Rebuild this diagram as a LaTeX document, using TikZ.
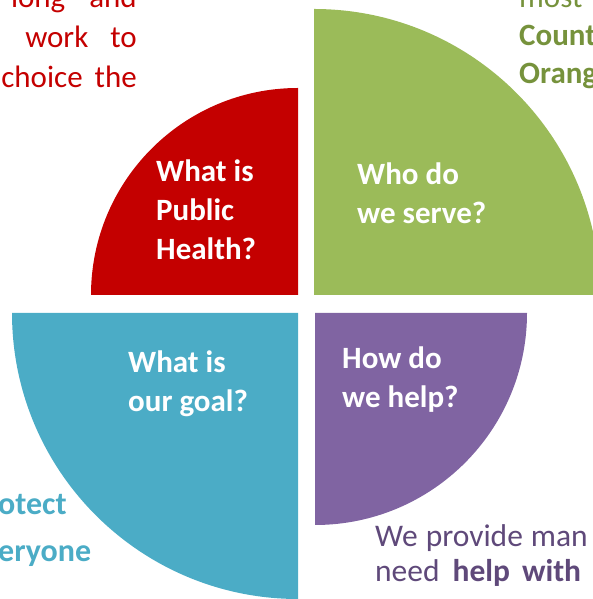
\documentclass[tikz,border=0pt]{standalone}
\usepackage{fontspec}
\setmainfont{Carlito}
\definecolor{healthred}{HTML}{C40000}
\definecolor{servegreen}{HTML}{9BBB59}
\definecolor{servetext}{HTML}{76923C}
\definecolor{helppurple}{HTML}{8064A2}
\definecolor{helptext}{HTML}{5F497A}
\definecolor{goalteal}{HTML}{4BACC6}

\begin{document}
\begin{tikzpicture}[x=1pt, y=1pt,
  question/.style={text=white, font=\fontsize{31}{39}\selectfont\bfseries, align=left, anchor=base west, inner sep=0pt},
  blurb/.style={inner sep=0pt, anchor=base west, align=left}]

\useasboundingbox (0,0) rectangle (593,599);
\clip (0,0) rectangle (593,599);

% the four quarters
\fill[healthred] (298,304) -- (298,511) arc[start angle=90, end angle=180, radius=207] -- cycle;
\fill[servegreen] (314,304) -- (600,304) arc[start angle=0, end angle=90, radius=286] -- cycle;
\fill[helppurple] (315,286) -- (315,74) arc[start angle=270, end angle=360, radius=212] -- cycle;
\fill[goalteal] (298,286) -- (12,286) arc[start angle=180, end angle=270, radius=286] -- cycle;

% base is the last line here
\node[question] (health) at (156,339) {What is\\Public\\Health?};
\node[question] (serve) at (357,375) {Who do\\we serve?};
\node[question] (help) at (342,191) {How do\\we help?};
\node[question] (goal) at (128,187) {What is\\our goal?};

% text round the edges
\node[blurb, anchor=base east, align=right, text=healthred, font=\fontsize{31}{40}\selectfont] (healthtext) at (137,511)
  {long\hspace{24pt}and\\work\hspace{22pt}to\\choice\hspace{12pt}the};
\node[blurb, text=servetext, font=\fontsize{31}{38}\selectfont] (servetext) at (519,515)
  {most\\\textbf{Count}\\\textbf{Orang}};
\node[blurb, text=goalteal, font=\fontsize{32}{47}\selectfont\bfseries] (goaltext) at (-2,37)
  {otect\\eryone};
\node[blurb, text=helptext, font=\fontsize{31.5}{35}\selectfont] (helptext) at (375,17)
  {We\hspace{8pt}provide\hspace{8pt}man\\need\hspace{13pt}\textbf{help}\hspace{12pt}\textbf{with}};
\end{tikzpicture}
\end{document}
